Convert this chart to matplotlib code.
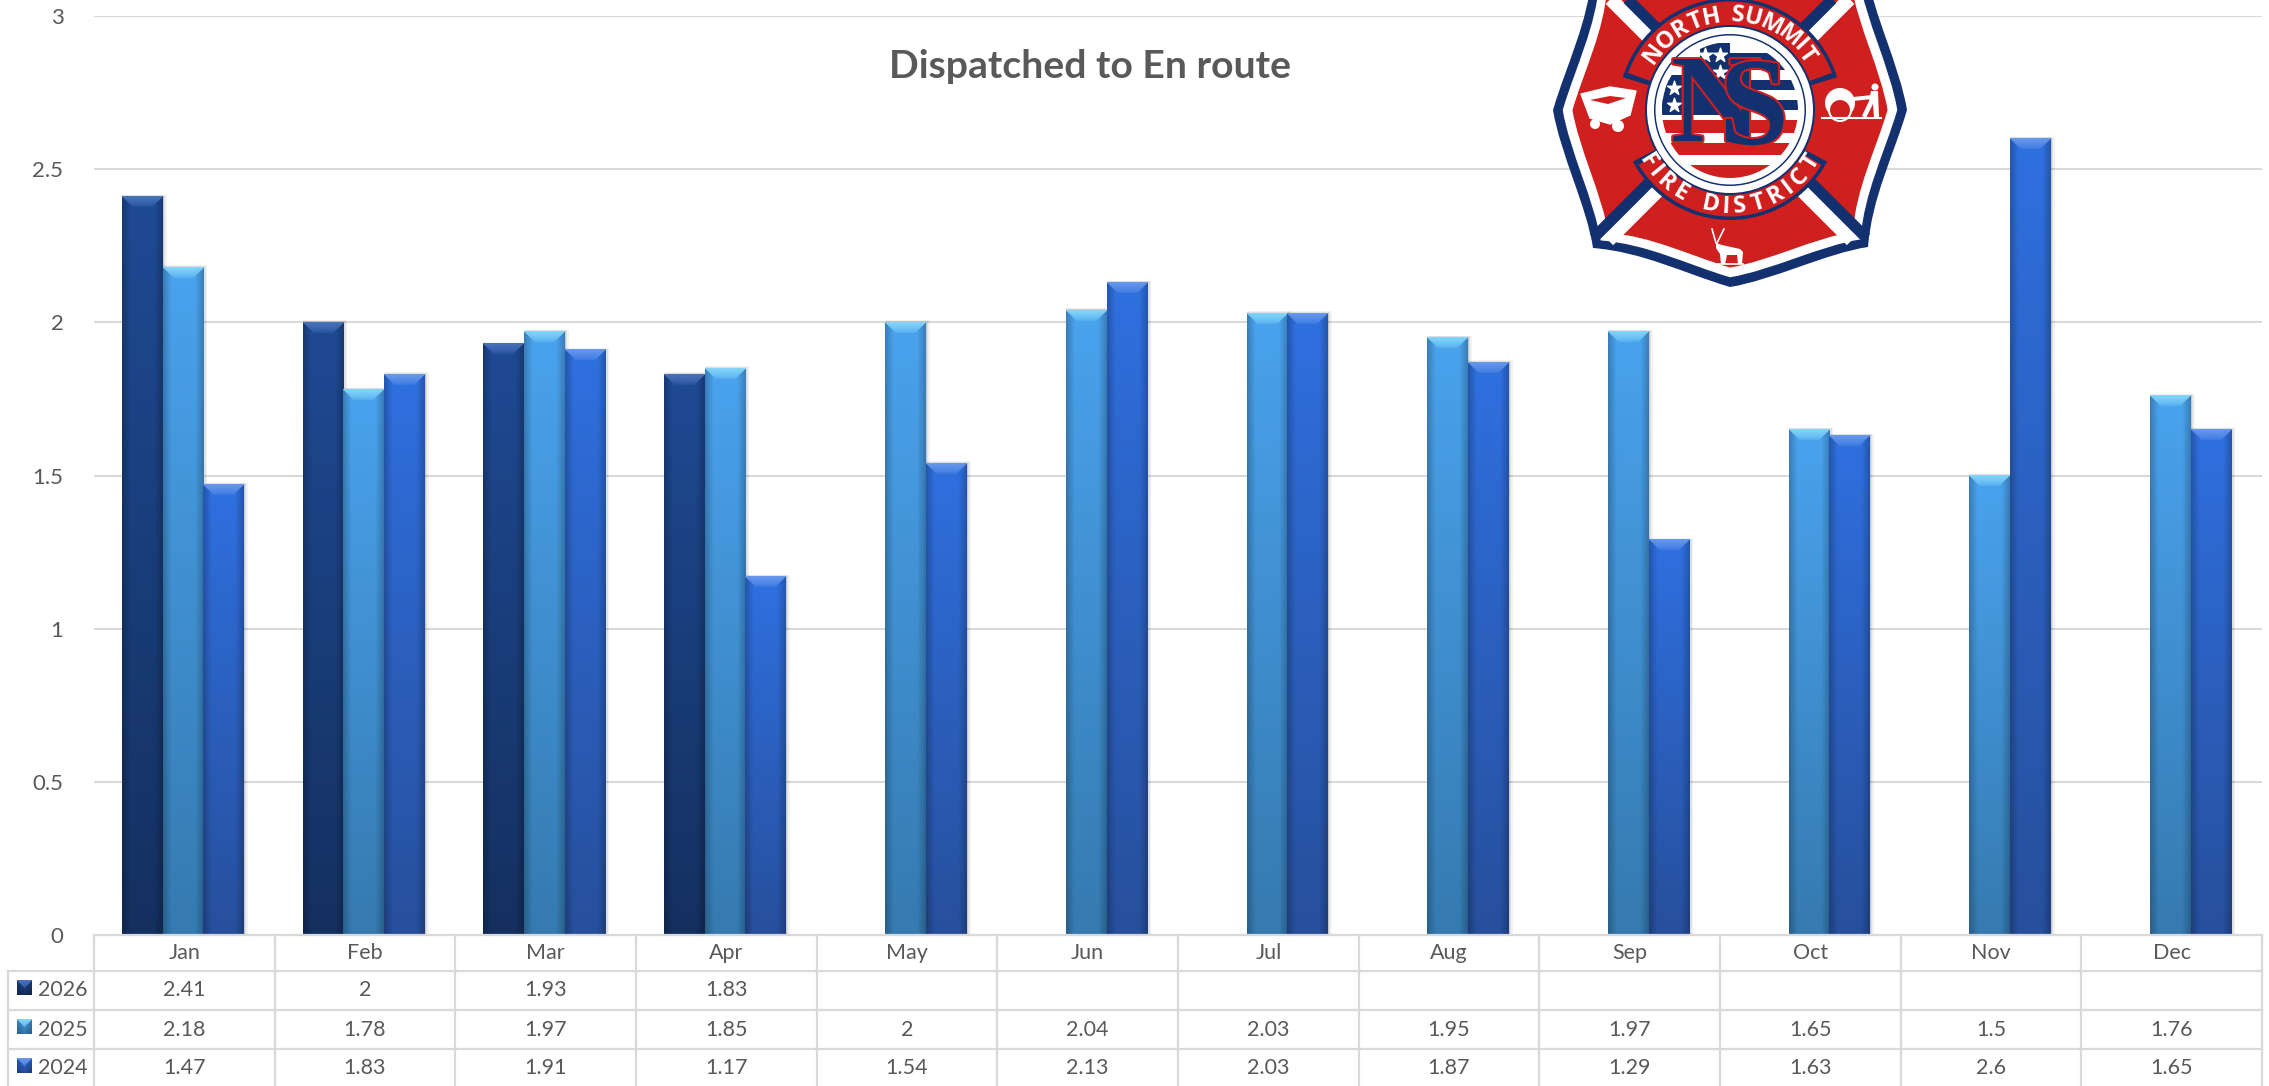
import numpy as np
import matplotlib
matplotlib.use("Agg")
import matplotlib.pyplot as plt
from matplotlib.patches import Circle, PathPatch, Polygon, Rectangle, Wedge
from matplotlib.path import Path
from matplotlib.textpath import TextPath
from matplotlib.font_manager import FontProperties
import matplotlib.patheffects as pe

plt.rcParams['font.family'] = ['Lato', 'DejaVu Sans']

months = ["Jan", "Feb", "Mar", "Apr", "May", "Jun", "Jul", "Aug", "Sep", "Oct", "Nov", "Dec"]
years = ["2026", "2025", "2024"]
v2026 = [2.41, 2, 1.93, 1.83, None, None, None, None, None, None, None, None]
v2025 = [2.18, 1.78, 1.97, 1.85, 2, 2.04, 2.03, 1.95, 1.97, 1.65, 1.5, 1.76]
v2024 = [1.47, 1.83, 1.91, 1.17, 1.54, 2.13, 2.03, 1.87, 1.29, 1.63, 2.6, 1.65]
yticks = [0, 0.5, 1, 1.5, 2, 2.5, 3]
ytick_labels = ["0", "0.5", "1", "1.5", "2", "2.5", "3"]

# top colour, bottom colour, bevel colour
bar_styles = [
    ("#1f4a94", "#14305f", "#4a74bc"),
    ("#4aa3ee", "#357ab0", "#86d8fa"),
    ("#2f70e0", "#274f9c", "#6a9aec"),
]
TEXT = "#595959"
GRID = "#d9d9d9"
W, H = 2269, 1086
L_PX, R_PX, TOP_PX, BASE_PX = 94, 2262, 16, 935
ROWS_PX = [935, 971, 1010, 1049, 1088]
BAR_W = 0.225
BAR_SHIFT = -0.008


def rgb(c):
    return np.array(matplotlib.colors.to_rgb(c))


def bar_image(h_px, w_px, top, bottom, bevel):
    # shaded column: vertical fade, rounded sides, and a bevelled cap
    h_px, w_px = max(int(h_px), 2), max(int(w_px), 2)
    t = np.linspace(0, 1, h_px)[:, None, None]
    img = rgb(top)[None, None, :] * (1 - t) + rgb(bottom)[None, None, :] * t
    img = np.repeat(img, w_px, axis=1)
    xs = np.arange(w_px)
    edge = np.minimum(xs, w_px - 1 - xs)
    shade = 0.78 + 0.22 * np.clip(edge / 8.0, 0, 1)
    img = img * shade[None, :, None]
    for r in range(min(11, h_px)):
        a = 0.95 * (1 - r / 11.0) ** 0.6
        cols = (xs >= r) & (xs < w_px - r)
        img[r, cols] = rgb(bevel) * a + img[r, cols] * (1 - a)
    return np.clip(img, 0, 1)


fig = plt.figure(figsize=(W / 100, H / 100), dpi=100, facecolor="white")
ax = fig.add_axes([L_PX / W, 1 - BASE_PX / H, (R_PX - L_PX) / W, (BASE_PX - TOP_PX) / H])
x = np.arange(12) + 0.5 + BAR_SHIFT
series = [v2026, v2025, v2024]
px_per_x = (R_PX - L_PX) / 12
px_per_y = (BASE_PX - TOP_PX) / 3

for i, vals in enumerate(series):
    arr = np.array([np.nan if v is None else v for v in vals], dtype=float)
    bars = ax.bar(x + (i - 1) * BAR_W, arr, BAR_W, color="none", zorder=3)
    for b, v in zip(bars, arr):
        if np.isnan(v):
            continue
        x0 = b.get_x()
        # soft shadow to the right of the column
        for k, alpha in ((4, 0.05), (2.5, 0.07), (1.2, 0.10)):
            ax.add_patch(Rectangle((x0, 0), BAR_W + k / px_per_x, v + k / 2 / px_per_y,
                                   fc="black", ec="none", alpha=alpha, zorder=2 + i * 0.1))
        top, bottom, bevel = bar_styles[i]
        img = bar_image(v * px_per_y, BAR_W * px_per_x, top, bottom, bevel)
        ax.imshow(img, extent=(x0, x0 + BAR_W, 0, v), origin="upper", aspect="auto",
                  interpolation="bilinear", zorder=3 + i * 0.1)

ax.set_xlim(0, 12)
ax.set_ylim(0, 3)
ax.set_yticks(yticks)
ax.set_yticklabels(ytick_labels)
ax.set_xticks([])
ax.tick_params(axis="y", length=0, pad=22, labelsize=16, labelcolor=TEXT)
ax.grid(True, axis="y", color=GRID, lw=1.5, zorder=0)
ax.set_axisbelow(True)
for s in ax.spines.values():
    s.set_visible(False)

# data table under the plot
tb = fig.add_axes([L_PX / W, 0, (R_PX - L_PX) / W, 1], facecolor="none")
tb.set_xlim(0, 12)
tb.set_ylim(H, 0)
tb.axis("off")
lbl_left = (8 - L_PX) / px_per_x
for j, y in enumerate(ROWS_PX):
    tb.plot([lbl_left if j > 0 else 0, 12], [y, y], color=GRID, lw=1.6, clip_on=False)
for c in range(13):
    tb.plot([c, c], [ROWS_PX[0], H], color=GRID, lw=1.6, clip_on=False)
tb.plot([lbl_left, lbl_left], [ROWS_PX[1], H], color=GRID, lw=1.6, clip_on=False)

for c, m in enumerate(months):
    tb.text(c + 0.5, (ROWS_PX[0] + ROWS_PX[1]) / 2, m, ha="center", va="center", fontsize=15.5, color=TEXT)
for r, (yr, vals) in enumerate(zip(years, series)):
    yc = (ROWS_PX[r + 1] + ROWS_PX[r + 2]) / 2
    tb.text(-0.31, yc, yr, ha="left", va="center", fontsize=15.5, color=TEXT, clip_on=False)
    sw = bar_image(15, 15, bar_styles[r][0], bar_styles[r][1], bar_styles[r][2])
    sw_w = 15 / px_per_x
    tb.imshow(sw, extent=(-0.426, -0.426 + sw_w, yc + 5, yc - 10), aspect="auto", clip_on=False, zorder=3)
    for c, v in enumerate(vals):
        if v is not None:
            tb.text(c + 0.5, yc, f"{v:g}", ha="center", va="center", fontsize=15.5, color=TEXT)
tb.set_xlim(0, 12)
tb.set_ylim(H, 0)

# overlay in pixel coordinates for the title and the badge
ov = fig.add_axes([0, 0, 1, 1], facecolor="none", zorder=10)
ov.set_xlim(0, W)
ov.set_ylim(H, 0)
ov.axis("off")
ov.text(1090, 66, "Dispatched to En route", ha="center", va="center", fontsize=28.2,
        fontweight="bold", color=TEXT)

NAVY = "#13306f"
RED = "#cf1f1f"
CX, CY = 1730, 110


def badge(scale):
    # one quadrant of the outline, turned four times
    q = np.array([(177, 0), (163, 47), (142, 87), (138, 137), (97, 143), (43, 170), (0, 177)], float)
    verts, codes = [], []
    for k in range(4):
        ang = k * np.pi / 2
        rot = np.array([[np.cos(ang), -np.sin(ang)], [np.sin(ang), np.cos(ang)]])
        p = q @ rot.T
        if k == 0:
            verts.append(p[0])
            codes.append(Path.MOVETO)
        verts.extend(p[1:])
        codes.extend([Path.CURVE4] * 6)
    verts.append(verts[0])
    codes.append(Path.CLOSEPOLY)
    return Path(np.array(verts) * scale + [CX, CY], codes)


def arc_text(s, radius, center_deg, size, span_deg, top=True):
    fp = FontProperties(family="Open Sans", weight="bold")
    widths = [TextPath((0, 0), ch, size=size, prop=fp).get_extents().width if ch != " " else size * 0.35 for ch in s]
    total = np.radians(span_deg)
    pad = (total * radius - sum(widths) * 100 / 72) / len(s)
    a = np.radians(center_deg) + (total / 2 if top else -total / 2)
    for ch, w in zip(s, widths):
        step = (w * 100 / 72 + pad) / radius
        mid = a - step / 2 if top else a + step / 2
        px, py = CX + radius * np.cos(mid), CY - radius * np.sin(mid)
        rot = np.degrees(mid) - 90 if top else np.degrees(mid) + 90
        ov.text(px, py, ch, ha="center", va="center", rotation=rot, rotation_mode="anchor",
                fontsize=size, color="white", family="Open Sans", fontweight="bold", zorder=6)
        a = a - step if top else a + step


ov.add_patch(PathPatch(badge(1.0), fc=NAVY, ec="none", zorder=1))
ov.add_patch(PathPatch(badge(0.945), fc="white", ec="none", zorder=1))
ov.add_patch(PathPatch(badge(0.89), fc=RED, ec="none", zorder=1))

# diagonal arms of the cross, a white stripe below a navy one
for sx, sy in ((1, 1), (-1, 1), (1, -1), (-1, -1)):
    n = np.array([sy, -sx]) if sx * sy < 0 else np.array([-sy, sx])
    if n[1] > 0:
        n = -n
    n = n / np.sqrt(2)
    w0, n0 = -n * 6, n * 6
    ov.plot([CX + w0[0], CX + w0[0] + sx * 126], [CY + w0[1], CY + w0[1] + sy * 126],
            color="white", lw=10, solid_capstyle="butt", zorder=2)
    ov.plot([CX + n0[0], CX + n0[0] + sx * 132], [CY + n0[1], CY + n0[1] + sy * 132],
            color=NAVY, lw=8, solid_capstyle="butt", zorder=2)

# banners for the two text arcs
ov.add_patch(Wedge((CX, CY), 110, 28, 152, width=32, fc=NAVY, ec="none", zorder=3))
ov.add_patch(Wedge((CX, CY), 106.5, 31, 149, width=26, fc=RED, ec="none", zorder=3))
ov.add_patch(Wedge((CX, CY), 112, 197, 343, width=32, fc=NAVY, ec="none", zorder=3))
ov.add_patch(Wedge((CX, CY), 108.5, 200, 340, width=26, fc=RED, ec="none", zorder=3))
arc_text("NORTH SUMMIT", 94.5, 90, 17, 118, top=True)
arc_text("FIRE DISTRICT", 97, 270, 17, 126, top=False)

# centre seal
ov.add_patch(Circle((CX, CY), 85, fc=NAVY, ec="none", zorder=4))
ov.add_patch(Circle((CX, CY), 83, fc="white", ec="none", zorder=4))
ov.add_patch(Circle((CX, CY), 76, fc=NAVY, ec="none", zorder=4))
ov.add_patch(Circle((CX, CY), 74.5, fc="white", ec="none", zorder=4))
clip = Circle((CX, CY), 68, transform=ov.transData)

stripes = [(10, 13, RED), (23, 10, "white"), (33, 12, RED), (45, 10, "white"), (55, 14, RED),
           (-30, 10, NAVY), (-10, 10, NAVY)]
for y0, h, col in stripes:
    r = ov.add_patch(Rectangle((CX - 70, CY + y0), 140, h, fc=col, ec="none", zorder=4))
    r.set_clip_path(clip)
flag_blocks = [(-68, -35, 63, 40), (-30, -67, 30, 32), (0, -57, 60, 17)]
for bx, by, bw, bh in flag_blocks:
    r = ov.add_patch(Rectangle((CX + bx, CY + by), bw, bh, fc=NAVY, ec="none", zorder=4))
    r.set_clip_path(clip)
ov.scatter([CX - 25, CX - 10, CX - 56, CX - 56, CX - 10], [CY - 55, CY - 55, CY - 22, CY - 5, CY - 38],
           marker="*", s=110, color="white", zorder=5)

stroke = [pe.withStroke(linewidth=3, foreground=RED)]
ov.text(CX - 14, CY + 1, "N", ha="center", va="center", fontsize=90, family="Liberation Serif",
        fontweight="bold", color=NAVY, path_effects=stroke, zorder=6)
ov.text(CX + 24, CY + 4, "S", ha="center", va="center", fontsize=90, family="Liberation Serif",
        fontweight="bold", color=NAVY, path_effects=stroke, zorder=7)

# white icons on the side and bottom arms
ov.add_patch(Polygon([(1581, 94), (1610, 87), (1636, 91), (1630, 115), (1610, 124), (1590, 118)],
                     fc="white", ec="white", zorder=5))
ov.add_patch(Polygon([(1590, 100), (1610, 96), (1626, 98), (1608, 104)], fc=RED, ec="none", zorder=6))
ov.add_patch(Circle((1595, 124), 5, fc="white", ec="none", zorder=5))
ov.add_patch(Circle((1618, 126), 6, fc="white", ec="none", zorder=5))

ov.add_patch(Circle((1840, 103), 15, fc="white", ec="none", zorder=5))
ov.add_patch(Circle((1840, 110), 11, fc=RED, ec="white", lw=1.5, zorder=5))
ov.add_patch(Polygon([(1853, 97), (1872, 95), (1872, 99), (1853, 101)], fc="white", ec="none", zorder=5))
ov.add_patch(Circle((1875, 87), 3.5, fc="white", ec="none", zorder=5))
ov.add_patch(Polygon([(1871, 91), (1878, 91), (1879, 118), (1874, 118), (1873, 104), (1866, 118), (1862, 116), (1869, 101)],
                     fc="white", ec="none", zorder=5))
ov.plot([1822, 1881], [118, 118], color="white", lw=1.5, zorder=5)

ov.add_patch(Polygon([(1716, 243), (1722, 245), (1740, 249), (1743, 252), (1742, 264), (1738, 264), (1737, 255),
                      (1727, 255), (1725, 264), (1721, 264), (1720, 254), (1716, 248)], fc="white", ec="none", zorder=5))
ov.plot([1716, 1712], [243, 229], color="white", lw=1.2, zorder=5)
ov.plot([1717, 1724], [243, 229], color="white", lw=1.2, zorder=5)
ov.plot([1714, 1743], [264, 264], color="white", lw=1.2, zorder=5)

ov.set_xlim(0, W)
ov.set_ylim(H, 0)
fig.savefig("out.png", dpi=100)
